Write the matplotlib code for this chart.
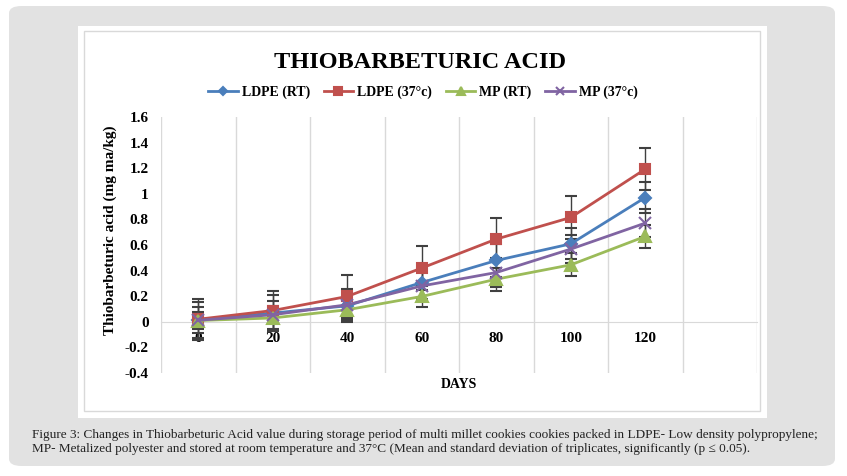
import matplotlib
matplotlib.use('Agg')
import matplotlib.pyplot as plt
import numpy as np
from matplotlib.patches import FancyBboxPatch, Rectangle
from matplotlib.ticker import FuncFormatter

# data
days = ['0', '20', '40', '60', '80', '100', '120']
ldpe_rt = [0.015, 0.068, 0.125, 0.307, 0.479, 0.609, 0.971]
ldpe_37 = [0.02, 0.088, 0.198, 0.42, 0.646, 0.815, 1.193]
mp_rt = [0.01, 0.03, 0.094, 0.198, 0.333, 0.445, 0.667]
mp_37 = [0.012, 0.055, 0.133, 0.28, 0.385, 0.568, 0.771]
ldpe_rt_sd = [0.14, 0.14, 0.13, 0.13, 0.13, 0.12, 0.12]
ldpe_37_sd = [0.16, 0.155, 0.165, 0.17, 0.165, 0.165, 0.165]
mp_rt_sd = [0.07, 0.095, 0.09, 0.08, 0.09, 0.09, 0.09]
mp_37_sd = [0.10, 0.11, 0.11, 0.11, 0.11, 0.11, 0.11]
labels = ['LDPE (RT)', 'LDPE (37°c)', 'MP (RT)', 'MP (37°c)']

W, H = 847, 476
serif = ['Liberation Serif', 'DejaVu Serif']

fig = plt.figure(figsize=(W/100, H/100), dpi=100)

def fx(x):
    return x / W
def fy(y):
    return 1 - y / H

# grey panel, white card and inner border
fig.patches.append(FancyBboxPatch((fx(9), fy(466)), fx(826), 460/H,
                                  boxstyle='round,pad=0,rounding_size=0.015',
                                  transform=fig.transFigure, fc='#e2e2e2', ec='none', zorder=0))
fig.patches.append(Rectangle((fx(78), fy(418)), fx(689), 392/H, transform=fig.transFigure,
                             fc='white', ec='none', zorder=1))
fig.patches.append(Rectangle((fx(84), fy(411)), fx(676), 380/H, transform=fig.transFigure,
                             fc='none', ec='#d9d9d9', lw=1, zorder=2))

ax = fig.add_axes([fx(161), fy(373), fx(757) - fx(161), (373 - 117)/H])
ax.set_facecolor('none')
ax.set_zorder(3)

x = np.arange(len(days))
series = [
    (ldpe_rt, ldpe_rt_sd, '#4a7ebb', 'D', 6),
    (ldpe_37, ldpe_37_sd, '#c0504d', 's', 7),
    (mp_rt, mp_rt_sd, '#9bbb59', '^', 8),
    (mp_37, mp_37_sd, '#8064a2', 'x', 8),
]
handles = []
for (vals, sd, col, mk, ms), lab in zip(series, labels):
    cont = ax.errorbar(x, vals, yerr=sd, color=col, marker=mk, ms=ms, lw=2, mew=1.5,
                       ecolor='#404040', elinewidth=1, capsize=4, capthick=1, label=lab, zorder=4)
    handles.append(cont[0])

ax.set_xlim(-0.5, 7.5)
ax.set_ylim(-0.4, 1.6)
ax.set_yticks(np.arange(-0.4, 1.61, 0.2))
ax.yaxis.set_major_formatter(FuncFormatter(lambda v, p: '{:g}'.format(round(v, 1))))
ax.set_xticks(x)
ax.set_xticklabels(days)
ax.set_xticks(np.arange(-0.5, 7.6, 1), minor=True)
ax.grid(True, which='minor', axis='x', color='#d9d9d9', lw=1)
for s in ['top', 'right', 'left']:
    ax.spines[s].set_visible(False)
ax.spines['bottom'].set_position(('data', 0))
ax.spines['bottom'].set_color('#d9d9d9')
ax.tick_params(which='both', length=0)
ax.tick_params(axis='y', pad=9)
ax.tick_params(axis='x', pad=7)
for t in ax.get_xticklabels() + ax.get_yticklabels():
    t.set_family(serif)
    t.set_fontweight('bold')
    t.set_fontsize(11)

ax.text(0.5, -0.043, 'DAYS', transform=ax.transAxes, ha='center', va='center',
        family=serif, fontweight='bold', fontsize=10)
fig.text(fx(110), fy(230), 'Thiobarbeturic acid (mg ma/kg)', rotation=90, ha='center', va='center',
         family=serif, fontweight='bold', fontsize=11, zorder=5)

fig.text(fx(420), fy(62), 'THIOBARBETURIC ACID', ha='center', va='center',
         family=serif, fontweight='bold', fontsize=17.5, zorder=5)

leg = fig.legend(handles, labels, loc='center', bbox_to_anchor=(fx(423), fy(92)), ncol=4, frameon=False,
                 prop={'family': serif, 'weight': 'bold', 'size': 10},
                 handlelength=2.1, handletextpad=0.3, columnspacing=1.0, markerscale=0.75)
leg.set_zorder(5)

caption = ('Figure 3: Changes in Thiobarbeturic Acid value during storage period of multi millet cookies cookies packed in LDPE- Low density polypropylene;\n'
           'MP- Metalized polyester and stored at room temperature and 37°C (Mean and standard deviation of triplicates, significantly (p ≤ 0.05).')
fig.text(fx(32), fy(442), caption, ha='left', va='center', family=serif, fontsize=9.5,
         linespacing=1.25, color='#222222', zorder=5)

fig.savefig('out.png', dpi=100)
